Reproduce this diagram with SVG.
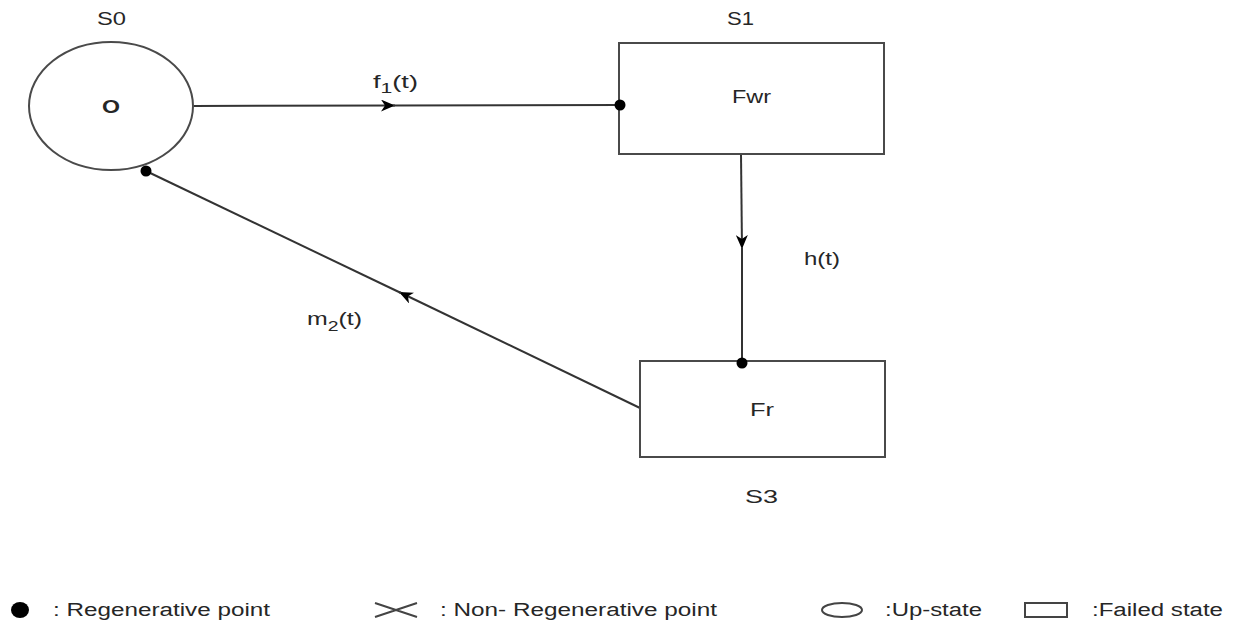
<svg xmlns="http://www.w3.org/2000/svg" width="1236" height="625" viewBox="0 0 1236 625">
<style>
text{font-family:"Liberation Sans",Arial,sans-serif;font-size:18px;fill:#262626}
.shape{fill:#fff;stroke:#4a4a4a;stroke-width:2}
.conn{stroke:#333;stroke-width:2;fill:none}
.dot{fill:#000}
.lg{fill:none;stroke:#444;stroke-width:2}
</style>
<defs>
<marker id="arr" viewBox="0 0 14 12" refX="14" refY="6" markerWidth="14" markerHeight="12" orient="auto" markerUnits="userSpaceOnUse">
<path d="M0,0 L14,6 L0,12 L4,6 Z" fill="#000"/>
</marker>
</defs>
<rect width="1236" height="625" fill="#fff"/>
<g id="connectors">
<path class="conn" d="M194,106 L395,105.5" marker-end="url(#arr)"/>
<path class="conn" d="M393,105.5 L620,105"/>
<path class="conn" d="M741,154 L742,249" marker-end="url(#arr)"/>
<path class="conn" d="M742,247 L742,363"/>
<path class="conn" d="M640,408 L399,292" marker-end="url(#arr)"/>
<path class="conn" d="M401,293 L146,171"/>
<text x="373" y="88" textLength="45" lengthAdjust="spacingAndGlyphs">f<tspan font-size="14" dy="5">1</tspan><tspan dy="-5">(t)</tspan></text>
<text x="804" y="265" textLength="36" lengthAdjust="spacingAndGlyphs">h(t)</text>
<text x="307" y="325" textLength="55" lengthAdjust="spacingAndGlyphs">m<tspan font-size="14" dy="6">2</tspan><tspan dy="-6">(t)</tspan></text>
</g>
<g id="S0">
<ellipse class="shape" cx="111" cy="106" rx="82" ry="64"/>
<text x="97" y="25" textLength="29" lengthAdjust="spacingAndGlyphs">S0</text>
<text x="102" y="113" font-weight="bold" textLength="18" lengthAdjust="spacingAndGlyphs">O</text>
</g>
<g id="S1">
<rect class="shape" x="619" y="43" width="265" height="111"/>
<text x="727" y="25" textLength="27" lengthAdjust="spacingAndGlyphs">S1</text>
<text x="732" y="103" textLength="39" lengthAdjust="spacingAndGlyphs">Fwr</text>
</g>
<g id="S3">
<rect class="shape" x="640" y="361" width="245" height="96"/>
<text x="750" y="416" textLength="24" lengthAdjust="spacingAndGlyphs">Fr</text>
<text x="745" y="503" textLength="33" lengthAdjust="spacingAndGlyphs">S3</text>
</g>
<g id="dots">
<circle class="dot" cx="620" cy="105" r="5.5"/>
<circle class="dot" cx="742" cy="363" r="5.5"/>
<circle class="dot" cx="146" cy="171" r="5.5"/>
</g>
<g id="legend">
<ellipse class="dot" cx="20" cy="610" rx="9" ry="8"/>
<text x="53" y="616" textLength="217" lengthAdjust="spacingAndGlyphs">: Regenerative point</text>
<path d="M375,603 L417,617 M375,617 L417,603" stroke="#444" stroke-width="2" fill="none"/>
<text x="440" y="616" textLength="277" lengthAdjust="spacingAndGlyphs">: Non- Regenerative point</text>
<ellipse class="lg" cx="842" cy="610" rx="20" ry="7"/>
<text x="885" y="616" textLength="97" lengthAdjust="spacingAndGlyphs">:Up-state</text>
<rect class="lg" x="1025" y="603" width="42" height="14"/>
<text x="1092" y="616" textLength="131" lengthAdjust="spacingAndGlyphs">:Failed state</text>
</g>
</svg>
